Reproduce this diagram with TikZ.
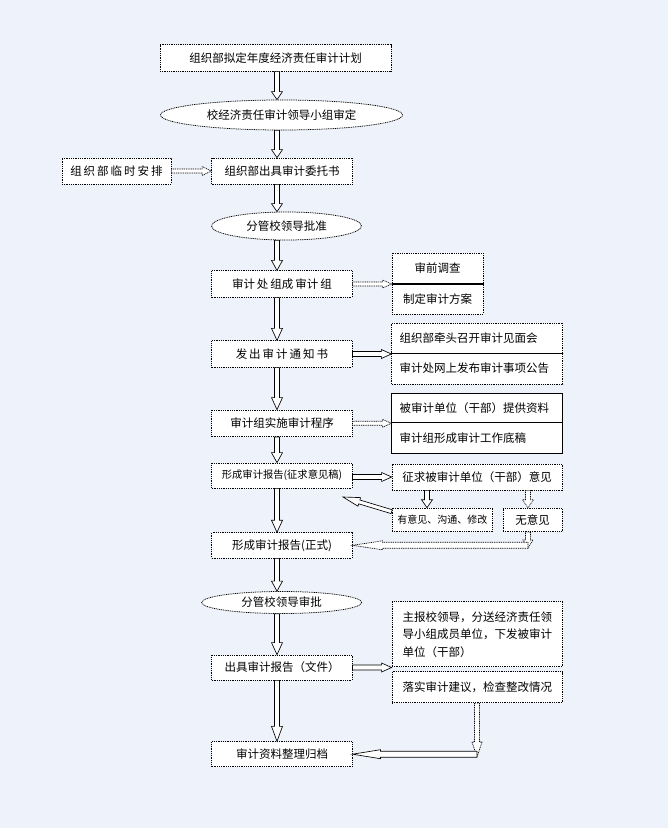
\documentclass[tikz,border=0pt]{standalone}
\usepackage{fontspec}
\setmainfont{Noto Sans CJK SC}
\usetikzlibrary{calc,shapes.geometric}
\definecolor{bgc}{RGB}{238,242,250}
\newcommand\gp{\hspace{2pt}}
% block arrow: [style]{start}{end}{half shaft}{half head}{head length}
\newcommand\barrow[6][]{%
  \coordinate (ba-s) at (#2);
  \coordinate (ba-e) at (#3);
  \coordinate (ba-h) at ($(ba-e)!#6pt!(ba-s)$);
  \draw[barr,#1] ($(ba-s)!#4pt!90:(ba-e)$) -- ($(ba-h)!#4pt!90:(ba-e)$)
    -- ($(ba-h)!#5pt!90:(ba-e)$) -- (ba-e) -- ($(ba-h)!#5pt!-90:(ba-e)$)
    -- ($(ba-h)!#4pt!-90:(ba-e)$) -- ($(ba-s)!#4pt!-90:(ba-e)$) -- cycle;}
\begin{document}
\begin{tikzpicture}[x=1pt,y=-1pt,
  every node/.style={font=\fontsize{11.5}{14}\selectfont, inner sep=0pt},
  dots/.style={dash pattern=on 1pt off 0.8pt},
  box/.style={draw, dots, fill=white, line width=0.75pt},
  cell/.style={draw, dots, fill=white, line width=0.75pt},
  ell/.style={ellipse, draw, dots, fill=white, line width=0.75pt},
  lcell/.style={cell, text width=155pt, align=left},
  barr/.style={draw, fill=white, line width=0.65pt}]
\fill[bgc] (0,0) rectangle (668,828);
\coordinate (spine) at (277,0);
\coordinate (x1) at (427,0);
\coordinate (x2) at (528,0);
\coordinate (x3) at (477,0);
\coordinate (fb) at (343,497);
\coordinate (c1) at (528,548);
\coordinate (c2) at (477,757);

% main column
\node[box, minimum width=231, minimum height=26.5] (b1) at (275.5,58) {组织部拟定年度经济责任审计计划};
\node[ell, minimum width=242, minimum height=30] (e1) at (281.5,115) {校经济责任审计领导小组审定};
\node[box, minimum width=141, minimum height=26] (b2) at (282,171) {组织部出具审计委托书};
\node[box, minimum width=109, minimum height=26] (b0) at (116.5,171) {组\gp{}织\gp{}部\gp{}临\gp{}时\gp{}安\gp{}排};
\node[ell, minimum width=150, minimum height=28] (e2) at (286.5,226) {分管校领导批准};
\node[box, minimum width=140.3, minimum height=26.5] (b3) at (282,284) {审计\gp{}处\gp{}组成\gp{}审计\gp{}组};
\node[box, minimum width=140.3, minimum height=26.5] (b4) at (282,354) {发\gp{}出\gp{}审\gp{}计\gp{}通\gp{}知\gp{}书};
\node[box, minimum width=140.3, minimum height=26.7] (b5) at (282,423.3) {审计组实施审计程序};
\node[box, minimum width=140.3, minimum height=25, font=\fontsize{10.3}{12}\selectfont] (b6) at (282,475.5) {形成审计报告(征求意见稿)};
\node[box, minimum width=140.3, minimum height=25.3] (b7) at (282,545.3) {形成审计报告(正式)};
\node[ell, minimum width=160, minimum height=22] (e3) at (281.7,602.5) {分管校领导审批};
\node[box, minimum width=140.3, minimum height=25] (b8) at (282,667.5) {出具审计报告（文件）};
\node[box, minimum width=140.3, minimum height=25] (b9) at (282,754.2) {审计资料整理归档};

% right side
\node[cell, minimum width=91, minimum height=30.5] (r3a) at (437.5,268.25) {审前调查};
\node[cell, minimum width=91, minimum height=30.5] (r3b) at (437.5,298.75) {制定审计方案};
\draw[line width=0.6pt] (r3a.south west) -- (r3a.south east);
\node[lcell, minimum width=171, minimum height=30] (r4a) at (477.2,338) {组织部牵头召开审计见面会};
\node[lcell, minimum width=171, minimum height=31] (r4b) at (477.2,368.5) {审计处网上发布审计事项公告};
\draw[line width=0.6pt] (r4a.south west) -- (r4a.south east);
\node[lcell, solid, minimum width=171, minimum height=29.7] (r5a) at (477.2,407.9) {被审计单位（干部）提供资料};
\node[lcell, solid, minimum width=171, minimum height=30.3] (r5b) at (477.2,437.9) {审计组形成审计工作底稿};
\node[cell, minimum width=170, minimum height=26] (r6) at (477,477) {征求被审计单位（干部）意见};
\node[cell, minimum width=100.7, minimum height=23.7, font=\fontsize{10}{12}\selectfont] (y1) at (442.4,519.9) {有意见、沟通、修改};
\node[cell, minimum width=59, minimum height=23.7] (n1) at (532.5,519.9) {无意见};
\node[cell, minimum width=170.7, minimum height=65, align=left, font=\fontsize{11.5}{17.5}\selectfont] (r8a) at (477.3,634.2) {主报校领导，分送经济责任领\\导小组成员单位，下发被审计\\单位（干部）};
\node[cell, minimum width=170.7, minimum height=31] (r8b) at (477.3,687.2) {落实审计建议，检查整改情况};

% main arrows
\barrow{b1.south -| spine}{e1.north -| spine}{2.5}{5.5}{8}
\barrow{e1.south -| spine}{b2.north -| spine}{2.5}{5.5}{8}
\barrow[dots]{b0.east}{b2.west}{2}{4.5}{9}
\barrow{b2.south -| spine}{e2.north -| spine}{2.5}{5.5}{8}
\barrow{e2.south -| spine}{b3.north -| spine}{2.5}{5.5}{10}
\barrow{b3.south -| spine}{b4.north -| spine}{2.5}{5.5}{12}
\barrow{b4.south -| spine}{b5.north -| spine}{2.5}{5.5}{12}
\barrow{b5.south -| spine}{b6.north -| spine}{2.5}{5.5}{10}
\barrow{b6.south -| spine}{b7.north -| spine}{2.5}{5.5}{12}
\barrow{b7.south -| spine}{e3.north -| spine}{2.5}{5.5}{10}
\barrow{e3.south -| spine}{b8.north -| spine}{2.5}{5.5}{12}
\barrow{b8.south -| spine}{b9.north -| spine}{2.5}{5.5}{15}

% side arrows
\barrow[dots]{b3.east}{b3.east -| r3a.west}{2}{4}{9}
\barrow{b4.east}{b4.east -| r4a.west}{2.5}{4.5}{10}
\barrow[dots]{b5.east}{b5.east -| r5a.west}{2}{4}{9}
\barrow{b6.east |- r6.west}{r6.west}{2.5}{4.5}{10}
\barrow{b8.east}{b8.east -| r8a.west}{2.5}{4.5}{10}
\barrow{r6.south -| x1}{y1.north -| x1}{2.5}{5.5}{8}
\barrow[dots]{r6.south -| x2}{n1.north -| x2}{2.5}{5.5}{8}
\barrow{$(y1.north west)+(0,4)$}{fb}{2}{4.5}{17}
\barrow[dots]{n1.south -| x2}{c1}{2.5}{5}{8}
\barrow[dots]{b7.east -| x2}{b7.east}{3}{4.5}{30}
\barrow[dots]{r8b.south -| x3}{c2}{2.5}{5}{15}
\barrow{b9.east -| x3}{b9.east}{3}{4.5}{28}
\end{tikzpicture}
\end{document}
